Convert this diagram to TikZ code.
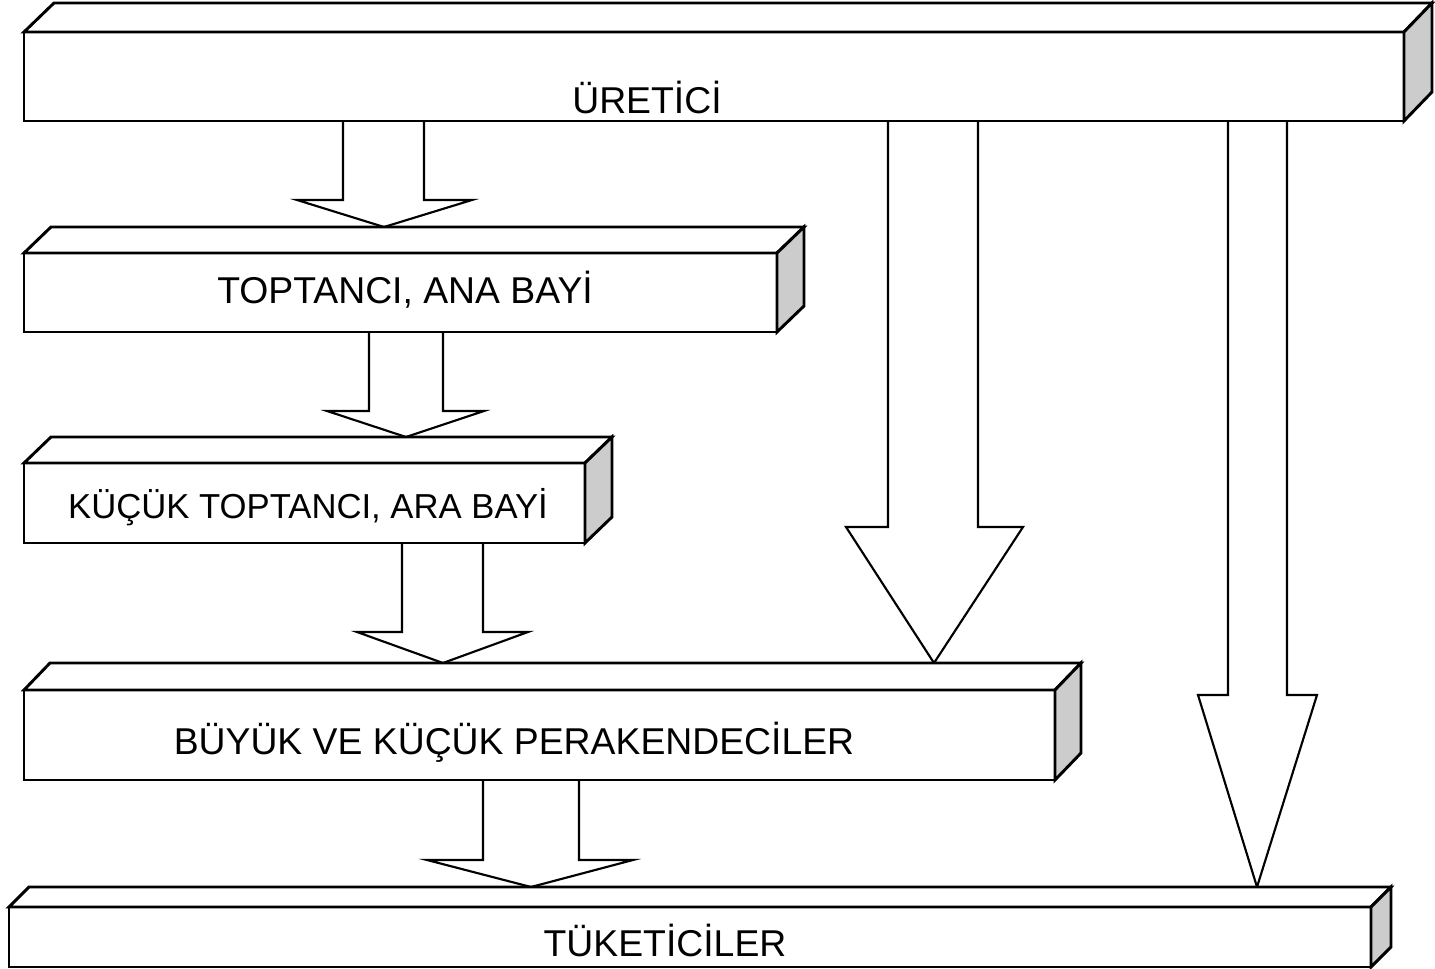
\documentclass[tikz,border=0pt]{standalone}
\usepackage{fontspec}
\setmainfont{Liberation Sans}
\tikzset{every picture/.style={line width=0.75pt}}
\tikzset{
  slab/.style={draw, line width=2.2pt, line join=miter, fill=white},
  slabside/.style={draw, line width=2.2pt, line join=miter, fill={rgb, 255:red, 204; green, 204; blue, 204}},
  blockarrow/.style={draw, line width=1.6pt, line join=miter, fill=white},
  label/.style={anchor=center, inner sep=0.75pt, font=\fontsize{28}{33}\selectfont}
}

\begin{document}
\begin{tikzpicture}[x=0.75pt,y=0.75pt,yscale=-1,xscale=1]
\path[use as bounding box] (0,0) rectangle (1435,969);

%Shape: Down Arrow [id:ok1] 
\draw [blockarrow] (343,121) -- (343,200) -- (297,200) -- (384,227) -- (472,200) -- (424,200) -- (424,121) ;
%Shape: Down Arrow [id:ok2] 
\draw [blockarrow] (369,332) -- (369,411) -- (327,411) -- (406,437) -- (484,411) -- (443,411) -- (443,332) ;
%Shape: Down Arrow [id:ok3] 
\draw [blockarrow] (402,543) -- (402,632) -- (357,632) -- (443,663) -- (528,632) -- (483,632) -- (483,543) ;
%Shape: Down Arrow [id:ok4] 
\draw [blockarrow] (483,780) -- (483,860) -- (427,860) -- (531,887) -- (633,860) -- (579,860) -- (579,780) ;
%Shape: Down Arrow [id:okA] 
\draw [blockarrow] (888,121) -- (888,527) -- (846,527) -- (934,663) -- (1023,527) -- (978,527) -- (978,121) ;
%Shape: Down Arrow [id:okB] 
\draw [blockarrow] (1228,121) -- (1228,695) -- (1198,695) -- (1257,887) -- (1317,695) -- (1287,695) -- (1287,121) ;

%Shape: Cube [id:uretici] 
\draw [slab] (24,32) rectangle (1404,121) ;
\draw [slab] (24,32) -- (54,3) -- (1432,3) -- (1404,32) -- cycle ;
\draw [slabside] (1404,32) -- (1432,3) -- (1432,92) -- (1404,121) -- cycle ;
%Shape: Cube [id:toptanci] 
\draw [slab] (24,253) rectangle (777,332) ;
\draw [slab] (24,253) -- (51,227) -- (804,227) -- (777,253) -- cycle ;
\draw [slabside] (777,253) -- (804,227) -- (804,306) -- (777,332) -- cycle ;
%Shape: Cube [id:kucuktoptanci] 
\draw [slab] (24,463) rectangle (585,543) ;
\draw [slab] (24,463) -- (51,437) -- (612,437) -- (585,463) -- cycle ;
\draw [slabside] (585,463) -- (612,437) -- (612,517) -- (585,543) -- cycle ;
%Shape: Cube [id:perakendeci] 
\draw [slab] (24,690) rectangle (1055,780) ;
\draw [slab] (24,690) -- (50,663) -- (1081,663) -- (1055,690) -- cycle ;
\draw [slabside] (1055,690) -- (1081,663) -- (1081,753) -- (1055,780) -- cycle ;
%Shape: Cube [id:tuketici] 
\draw [slab] (9,907) rectangle (1371,967) ;
\draw [slab] (9,907) -- (29,887) -- (1391,887) -- (1371,907) -- cycle ;
\draw [slabside] (1371,907) -- (1391,887) -- (1391,947) -- (1371,967) -- cycle ;

% Text Node
\draw (647,97) node [label] (uretici) {ÜRETİCİ};
% Text Node
\draw (405,290) node [label] (toptanci) {TOPTANCI, ANA BAYİ};
% Text Node
\draw (308,507) node [label, font=\fontsize{26}{31}\selectfont] (kucuk) {KÜÇÜK TOPTANCI, ARA BAYİ};
% Text Node
\draw (514,742) node [label] (perakende) {BÜYÜK VE KÜÇÜK PERAKENDECİLER};
% Text Node
\draw (665,940) node [label] (tuketici) {TÜKETİCİLER};

\end{tikzpicture}
\end{document}
